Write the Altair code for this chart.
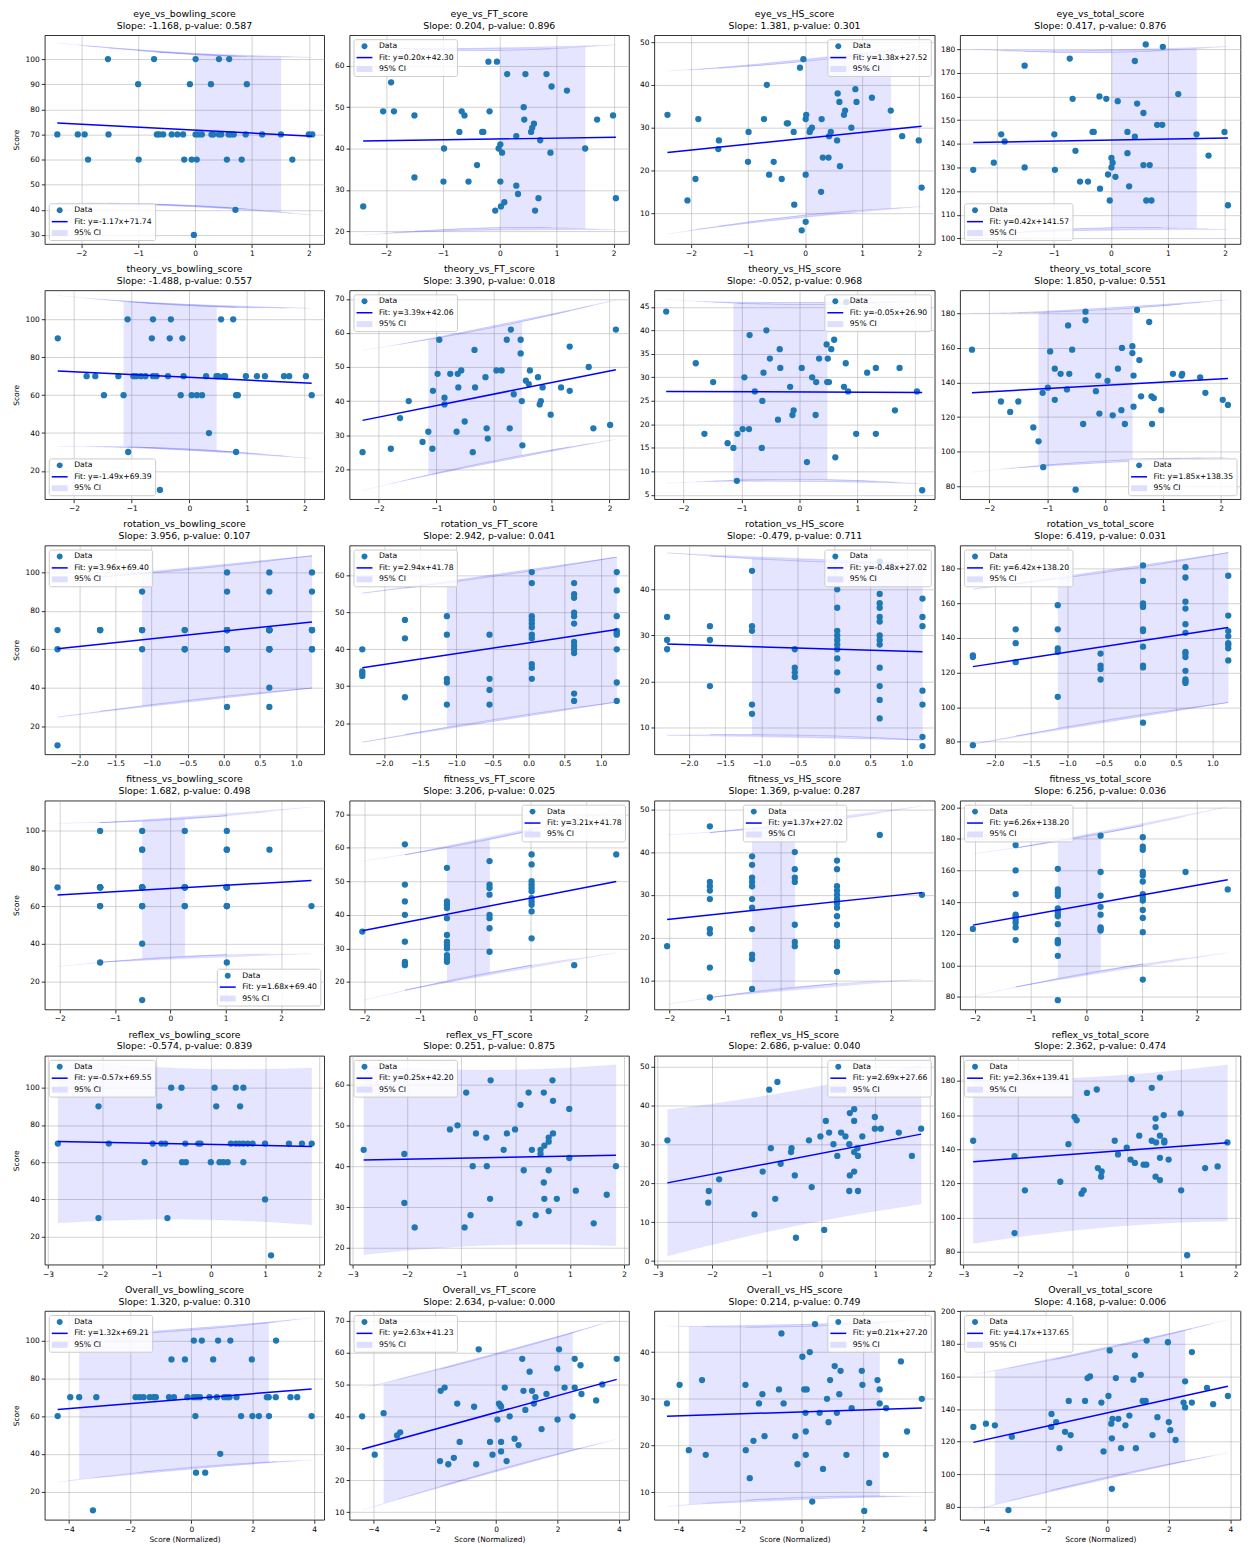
import math
import altair as alt
import numpy as np
import pandas as pd

FONT = "DejaVu Sans"
PT = "#1f77b4"

# ---------------- eye row (x = normalized eye score, y = outcome) ----------------
eye_bowling = [(-2.42,70),(-2.06,70),(-1.94,70),(-1.88,60),(-1.53,100),(-1.52,70),(-1.00,90),(-0.99,60),
               (-0.72,100),(-0.67,70),(-0.63,70),(-0.56,70),(-0.41,70),(-0.31,70),(-0.21,70),(-0.19,60),
               (-0.09,90),(-0.06,60),(-0.02,30),(0.01,100),(0.03,60),(0.01,70),(0.06,70),(0.12,70),
               (0.28,90),(0.29,70),(0.32,70),(0.42,100),(0.42,70),(0.46,70),(0.56,60),(0.60,100),
               (0.59,70),(0.63,70),(0.68,70),(0.71,40),(0.82,60),(0.89,70),(0.91,90),(1.18,70),
               (1.51,70),(1.71,60),(2.00,70),(2.06,70)]
eye_FT = [(-2.40,26),(-2.05,49),(-1.91,56),(-1.86,49),(-1.50,48),(-1.50,33),(-0.98,40),(-0.99,32),
          (-0.71,44),(-0.67,49),(-0.62,48),(-0.55,32),(-0.40,36),(-0.31,44),(-0.29,44),(-0.20,61),
          (-0.18,49),(-0.05,61),(-0.08,25),(-0.02,40),(0.01,41),(0.04,39),(0.01,32),(0.02,26),
          (0.08,27),(0.13,58),(0.29,43),(0.29,31),(0.32,29),(0.42,50),(0.43,47),(0.45,58),
          (0.55,44),(0.57,45),(0.60,46),(0.62,25),(0.68,28),(0.71,42),(0.82,58),(0.89,39),
          (0.91,55),(1.18,54),(1.50,40),(1.71,47),(1.99,48),(2.04,28)]
eye_HS = [(-2.41,33),(-2.06,13),(-1.92,18),(-1.87,32),(-1.51,27),(-1.52,25),(-0.99,29),(-1.00,22),
          (-0.72,32),(-0.67,40),(-0.63,19),(-0.55,22),(-0.41,18),(-0.32,31),(-0.30,31),(-0.20,29),
          (-0.19,12),(-0.09,44),(-0.03,46),(-0.06,6),(0.01,32),(0.02,33),(0.01,19),(0.01,8),
          (0.08,29),(0.09,29.5),(0.12,30),(0.29,32),(0.28,15),(0.31,23),(0.41,23),(0.42,28),
          (0.45,29),(0.56,27),(0.57,38),(0.60,36),(0.61,21),(0.68,33),(0.70,34),(0.81,30),
          (0.88,39),(0.90,36),(1.17,37),(1.50,34),(1.70,28),(1.99,27),(2.04,16)]
eye_total = [(-2.41,129),(-2.05,132),(-1.92,144),(-1.86,141),(-1.51,173),(-1.51,130),(-0.99,144),
             (-0.98,129),(-0.72,176),(-0.67,159),(-0.62,137),(-0.54,124),(-0.40,124),(-0.32,145),
             (-0.30,145),(-0.20,160),(-0.19,121),(-0.08,159),(-0.05,127),(-0.02,116),(0.01,134),
             (0.03,132),(0.01,130),(0.08,126),(0.12,158),(0.29,145),(0.29,136),(0.32,122),
             (0.42,175),(0.42,143),(0.46,157),(0.57,153),(0.57,131),(0.61,182),(0.62,116),
             (0.68,131),(0.71,116),(0.81,148),(0.90,148),(0.91,181),(1.18,161),(1.50,144),
             (1.71,135),(1.99,145),(2.05,114)]

# ---------------- theory row ----------------
theory_bowling = [(-2.28,90),(-1.78,70),(-1.63,70),(-1.48,60),(-1.23,70),(-1.14,60),(-1.07,100),(-1.06,30),
                  (-0.97,70),(-0.92,70),(-0.84,70),(-0.76,70),(-0.65,90),(-0.63,100),(-0.63,70),(-0.57,70),
                  (-0.51,10),(-0.37,70),(-0.34,90),(-0.32,100),(-0.15,60),(-0.12,90),(-0.10,70),(0.04,60),
                  (0.13,60),(0.22,60),(0.29,70),(0.34,40),(0.47,70),(0.50,70),(0.55,100),(0.60,70),
                  (0.62,70),(0.76,100),(0.81,60),(0.84,60),(0.81,30),(0.98,70),(1.17,70),(1.31,70),
                  (1.64,70),(1.73,70),(2.02,70),(2.12,60)]
theory_FT = [(-2.28,25),(-1.79,26),(-1.63,35),(-1.48,40),(-1.24,28),(-1.14,31),(-1.07,26),(-1.06,43),
             (-0.98,48),(-0.95,58),(-0.86,39),(-0.86,41),(-0.76,48),(-0.65,31),(-0.63,48),(-0.62,44),
             (-0.57,49),(-0.51,34),(-0.37,25),(-0.34,55),(-0.33,44),(-0.15,47),(-0.13,32),(-0.11,29),
             (0.04,49),(0.13,49),(0.22,58),(0.27,32),(0.29,61),(0.34,42),(0.46,58),(0.46,54),
             (0.48,40),(0.49,27),(0.55,46),(0.60,45),(0.62,49),(0.76,47),(0.79,39),(0.81,40),
             (0.84,44),(0.98,36),(1.16,44),(1.31,43),(1.31,56),(1.64,50),(1.72,32),(2.01,33),(2.11,61)]
theory_HS = [(-2.30,44),(-1.79,33),(-1.64,18),(-1.49,29),(-1.24,16),(-1.14,15),(-1.08,8),(-1.07,18),
             (-0.98,19),(-0.87,19),(-0.95,30),(-0.86,39),(-0.77,27),(-0.65,15),(-0.64,25),(-0.62,31),
             (-0.57,40),(-0.51,34),(-0.37,21),(-0.34,36),(-0.33,32),(-0.16,28),(-0.12,22),(-0.10,23),
             (0.04,32),(0.13,12),(0.22,30),(0.28,22),(0.29,29),(0.34,34),(0.47,37),(0.48,29),
             (0.51,29),(0.49,34),(0.55,36),(0.60,38),(0.62,13),(0.81,46),(0.77,28),(0.80,33),
             (0.84,27),(0.98,18),(1.17,31),(1.32,32),(1.32,18),(1.65,23),(1.73,32),(2.03,27),(2.12,6)]
theory_total = [(-2.30,159),(-1.80,129),(-1.64,123),(-1.50,129),(-1.24,114),(-1.15,106),(-1.08,134),
                (-1.07,91),(-0.99,137),(-0.95,158),(-0.87,148),(-0.87,130),(-0.77,145),(-0.66,136),
                (-0.64,173),(-0.62,145),(-0.57,159),(-0.51,78),(-0.38,116),(-0.34,181),(-0.34,176),
                (-0.16,135),(-0.12,144),(-0.10,122),(0.04,141),(0.13,121),(0.22,148),(0.28,124),
                (0.29,160),(0.34,116),(0.47,161),(0.47,157),(0.49,144),(0.49,126),(0.55,182),
                (0.59,153),(0.62,132),(0.76,175),(0.80,132),(0.84,131),(0.81,116),(0.97,124),
                (1.17,145),(1.32,144),(1.33,145),(1.64,143),(1.73,134),(2.03,130),(2.12,127)]

# ---------------- rotation row (discrete x levels) ----------------
rotation_levels = [-2.30, -1.71, -1.13, -0.54, 0.045, 0.63, 1.22]
rotation_bowling = [[70,60,10],[70,70,70],[90,70,70,60,70],[70,60,70,60],
                    [100,90,70,60,30,70,70,60,70,70,60],
                    [100,90,70,60,40,30,70,70,60,70,60,70,70],
                    [100,90,70,60,70,70,60,70]]
rotation_FT = [[40,34,33.4,32.8],[48,43,27],[49,44,32,31,25],[44,32,29,25],
               [61,58,49,48,47,46,44,43,36,35,32],
               [58,55,54,50,49,47,42,41,40,39,28,26],
               [61,56,49,45,44.5,44,40,31,26]]
rotation_HS = [[34,29,27],[32,29,19],[44,32,31,15,13],[27,23,22,21],
               [40,36,31,30,29,28,27,25,22,18],
               [46,39,37,36,34,33,30,29,28,23,19,16,12],
               [38,34,32,18,15,8,6]]
rotation_total = [[130,129,78],[145,137,126],[159,145,134,132,106],[131,124,122,116],
                  [182,173,160,159,158,145,144,135,124,123,91],
                  [181,175,161,157,148,143,132,131,129,121,116,115,114],
                  [176,153,144,141,137,136,134,127]]

# ---------------- fitness row (discrete x levels) ----------------
fitness_levels = [-2.04, -1.27, -0.51, 0.26, 1.02, 1.79, 2.55]
fitness_bowling = [[70],[100,70,70,70,60,60,30,70,70],[100,90,90,70,70,70,60,60,40,10,70,70,60],
                   [100,70,70,60,70,60,70,70],[100,90,70,70,60,30,70,60,70,70,60,70,90],[90],[60]]
fitness_FT = [[35],[61,49,44,40,32,26,25.5,25],[54,44,43,42,39,34,32,31,30,28,27,26],
              [56,49,48,46,40,39,36,29],[58,55,50,49,48,47,45,44,43,41,33],[25],[58]]
fitness_HS = [[18],[46,33,32,31,29,22,21,13,6],[39,37,34,33,32,29,27,22,16,15,8],
              [40,36,34,33,23,19,18],[38,36,32,31,30,29,28,27,25,23,19,18,12],[44],[30]]
fitness_total = [[123],[176,160,145,132,131,129,127,124,116],
                 [161,148,146,144,136,134,132,131,126,116,115,114,106,78],
                 [182,159,144,137,132,124,123,122],
                 [181,175,173,159,157,153,145,143,141,135,130,121,91],[159],[148]]

# ---------------- reflex row ----------------
reflex_bowling = [(-2.82,70),(-2.07,90),(-2.07,30),(-1.88,70),(-1.22,60),(-1.07,70),(-0.95,90),(-0.91,70),
                  (-0.84,70),(-0.80,30),(-0.73,100),(-0.54,100),(-0.53,60),(-0.46,60),(-0.47,70),(-0.23,70),
                  (-0.19,70),(0.00,60),(0.07,100),(0.10,90),(0.16,60),(0.23,60),(0.31,60),(0.37,70),
                  (0.46,70),(0.53,70),(0.60,70),(0.68,70),(0.77,70),(0.46,100),(0.54,90),(0.60,100),
                  (0.60,60),(1.00,70),(1.00,40),(1.11,10),(1.44,70),(1.68,70),(1.86,70)]
reflex_FT = [(-2.80,44),(-2.05,43),(-2.05,31),(-1.86,25),(-1.21,49),(-1.07,50),(-0.94,25),(-0.91,58),
             (-0.83,28),(-0.79,40),(-0.73,48),(-0.54,47),(-0.53,40),(-0.46,61),(-0.47,32),(-0.22,44),
             (-0.16,48),(-0.01,49),(0.07,26),(0.09,55),(0.15,39),(0.24,58),(0.30,44),(0.37,28),
             (0.46,44),(0.46,43),(0.52,58),(0.53,45),(0.52,36),(0.53,32),(0.61,47),(0.61,46),
             (0.61,39),(0.61,29),(0.68,61),(0.69,56),(0.69,48),(0.76,32),(0.99,54),(0.99,42),
             (1.11,34),(1.44,26),(1.68,33),(1.85,40)]
reflex_HS = [(-2.82,31),(-2.06,18),(-2.07,15),(-1.87,21),(-1.22,12),(-1.07,23),(-0.95,44),(-0.92,29),
             (-0.84,16),(-0.80,46),(-0.74,25),(-0.54,29),(-0.55,28),(-0.48,22),(-0.46,6),(-0.22,31),
             (-0.17,19),(-0.01,32),(0.06,8),(0.09,36),(0.15,33),(0.23,30),(0.30,27),(0.37,33),
             (0.45,32),(0.52,30),(0.52,18),(0.53,38),(0.53,22),(0.61,39),(0.61,36),(0.61,28),
             (0.61,23),(0.67,29),(0.68,27),(0.68,18),(0.76,32),(0.99,37),(0.99,34),(1.10,34),
             (1.43,33),(1.67,27),(1.84,34)]
reflex_total = [(-2.82,145),(-2.06,136),(-2.06,91),(-1.87,116),(-1.22,121),(-1.07,143),(-0.96,159),
                (-0.92,157),(-0.83,114),(-0.79,116),(-0.73,173),(-0.55,175),(-0.53,129),(-0.46,127),
                (-0.47,124),(-0.22,145),(-0.16,137),(0.00,141),(0.07,134),(0.09,181),(0.15,132),
                (0.23,148),(0.31,131),(0.36,131),(0.46,176),(0.46,145),(0.53,158),(0.53,153),
                (0.54,144),(0.53,124),(0.61,182),(0.61,148),(0.61,135),(0.61,122),(0.68,160),
                (0.69,145),(0.69,144),(0.77,134),(0.99,161),(1.00,116),(1.11,78),(1.44,129),
                (1.67,130),(1.85,144)]

# ---------------- Overall row ----------------
Overall_bowling = [(-4.36,60),(-3.95,70),(-3.66,70),(-3.21,10),(-3.10,70),(-1.82,70),(-1.69,70),(-1.56,70),
                   (-1.36,70),(-1.23,70),(-1.16,70),(-0.73,70),(-0.57,70),(-0.65,90),(-0.21,90),(-0.13,70),
                   (0.07,70),(0.17,70),(0.28,70),(0.08,100),(0.13,60),(0.15,30),(0.34,100),(0.45,30),
                   (0.59,70),(0.71,90),(0.83,70),(0.87,100),(0.94,40),(1.07,70),(1.16,70),(1.24,70),
                   (1.27,100),(1.47,70),(1.62,60),(1.97,90),(1.99,60),(2.20,60),(2.46,70),(2.52,70),
                   (2.53,60),(2.75,70),(2.76,100),(3.23,70),(3.45,70),(3.92,60)]
Overall_FT = [(-4.37,40),(-3.96,28),(-3.67,41),(-3.23,34),(-3.13,35),(-1.81,48),(-1.83,26),(-1.68,49),
              (-1.56,25),(-1.38,27),(-1.27,44),(-1.19,32),(-0.72,43),(-0.65,25),(-0.57,61),(-0.20,32),
              (-0.12,28),(0.04,39),(0.09,44),(0.13,43.5),(0.16,43),(0.16,32),(0.16,29),(0.28,49),
              (0.34,26),(0.44,40),(0.60,33),(0.73,31),(0.85,58),(0.89,48),(0.95,42),(1.09,54),
              (1.17,48),(1.23,44),(1.28,46),(1.48,36),(1.64,47),(1.99,55),(2.00,39),(2.05,61),
              (2.23,49),(2.49,40),(2.56,58),(2.56,49),(2.75,56),(2.78,47),(3.26,45),(3.46,50),(3.93,58)]
Overall_HS = [(-4.37,29),(-3.96,33),(-3.66,19),(-3.23,34),(-3.11,18),(-1.82,33),(-1.81,19),(-1.68,13),
              (-1.56,21),(-1.38,29),(-1.27,31),(-1.20,22),(-0.73,32),(-0.65,44),(-0.58,29),(-0.20,22),
              (-0.13,16),(0.03,39),(0.09,32),(0.17,32),(0.13,27),(0.14,23),(0.14,18),(0.27,40),
              (0.35,8),(0.44,46),(0.59,27),(0.70,15),(0.83,30),(0.88,25),(0.93,34),(1.08,37),
              (1.15,27),(1.23,31),(1.27,36),(1.46,18),(1.63,28),(1.96,36),(1.98,33),(2.04,6),
              (2.20,12),(2.47,34),(2.54,32),(2.54,29),(2.75,28),(2.74,18),(3.23,38),(3.43,23),(3.91,30)]
Overall_total = [(-4.35,129),(-3.94,131),(-3.65,130),(-3.10,123),(-3.21,78),(-1.82,129),(-1.81,137),
                 (-1.66,132),(-1.55,116),(-1.37,126),(-1.25,145),(-1.19,124),(-0.72,145),(-0.64,159),
                 (-0.56,160),(-0.19,144),(-0.12,114),(0.04,148),(0.08,176),(0.13,131),(0.17,134),
                 (0.15,122),(0.15,91),(0.28,159),(0.36,134),(0.45,116),(0.59,130),(0.72,136),
                 (0.85,158),(0.90,173),(0.93,116),(1.09,161),(1.15,145),(1.25,145),(1.28,182),
                 (1.47,124),(1.63,135),(1.97,181),(2.00,132),(2.05,127),(2.22,121),(2.48,144),
                 (2.53,157),(2.53,141),(2.75,175),(2.75,144),(3.24,153),(3.44,143),(3.92,148)]

# ---------------- fit statistics: (slope, p-value, intercept) ----------------
eye_stats = [(-1.168,0.587,71.74),(0.204,0.896,42.30),(1.381,0.301,27.52),(0.417,0.876,141.57)]
theory_stats = [(-1.488,0.557,69.39),(3.390,0.018,42.06),(-0.052,0.968,26.90),(1.850,0.551,138.35)]
rotation_stats = [(3.956,0.107,69.40),(2.942,0.041,41.78),(-0.479,0.711,27.02),(6.419,0.031,138.20)]
fitness_stats = [(1.682,0.498,69.40),(3.206,0.025,41.78),(1.369,0.287,27.02),(6.256,0.036,138.20)]
reflex_stats = [(-0.574,0.839,69.55),(0.251,0.875,42.20),(2.686,0.040,27.66),(2.362,0.474,139.41)]
Overall_stats = [(1.320,0.310,69.21),(2.634,0.000,41.23),(0.214,0.749,27.20),(4.168,0.006,137.65)]

ROWS = ["eye", "theory", "rotation", "fitness", "reflex", "Overall"]
COLS = ["bowling", "FT", "HS", "total"]


def expand(levels, groups):
    return [(lv, v) for lv, g in zip(levels, groups) for v in g]


POINTS = {
    "eye": [eye_bowling, eye_FT, eye_HS, eye_total],
    "theory": [theory_bowling, theory_FT, theory_HS, theory_total],
    "rotation": [expand(rotation_levels, g) for g in (rotation_bowling, rotation_FT, rotation_HS, rotation_total)],
    "fitness": [expand(fitness_levels, g) for g in (fitness_bowling, fitness_FT, fitness_HS, fitness_total)],
    "reflex": [reflex_bowling, reflex_FT, reflex_HS, reflex_total],
    "Overall": [Overall_bowling, Overall_FT, Overall_HS, Overall_total],
}
STATS = {"eye": eye_stats, "theory": theory_stats, "rotation": rotation_stats,
         "fitness": fitness_stats, "reflex": reflex_stats, "Overall": Overall_stats}

# first / last subject of the data order (the band was drawn in data order)
BAND_ENDS = {"eye": (0.0, 1.51), "theory": (-1.14, 0.48), "rotation": (-1.13, 1.22),
             "fitness": (-0.51, 0.26), "reflex": None, "Overall": (-3.66, 2.52)}

XDOM = {"eye": (-2.64, 2.27), "theory": (-2.505, 2.337), "rotation": (-2.476, 1.389),
        "fitness": (-2.27, 2.78), "reflex": (-3.06, 2.09), "Overall": (-4.78, 4.33)}
XTICKS = {"eye": [-2, -1, 0, 1, 2], "theory": [-2, -1, 0, 1, 2],
          "rotation": [-2.0, -1.5, -1.0, -0.5, 0.0, 0.5, 1.0], "fitness": [-2, -1, 0, 1, 2],
          "reflex": [-3, -2, -1, 0, 1, 2], "Overall": [-4, -2, 0, 2, 4]}
YDOM = {
    ("eye", "bowling"): (26.4, 109.5, 30, 100, 10), ("eye", "FT"): (16.9, 67.4, 20, 60, 10),
    ("eye", "HS"): (2.8, 51.6, 10, 50, 10), ("eye", "total"): (97.6, 185.9, 100, 180, 10),
    ("theory", "bowling"): (5.1, 115.3, 20, 100, 20), ("theory", "FT"): (11.2, 72.5, 20, 70, 10),
    ("theory", "HS"): (4.1, 48.5, 5, 45, 5), ("theory", "total"): (72.5, 193.3, 80, 180, 20),
    ("rotation", "bowling"): (5.3, 114.0, 20, 100, 20), ("rotation", "FT"): (11.5, 68.2, 20, 60, 10),
    ("rotation", "HS"): (4.2, 49.5, 10, 40, 10), ("rotation", "total"): (72.7, 193.5, 80, 180, 20),
    ("fitness", "bowling"): (5.0, 116.1, 20, 100, 20), ("fitness", "FT"): (11.8, 74.0, 20, 70, 10),
    ("fitness", "HS"): (3.2, 52.0, 10, 50, 10), ("fitness", "total"): (72.1, 204.1, 80, 200, 20),
    ("reflex", "bowling"): (5.0, 117.1, 20, 100, 20), ("reflex", "FT"): (15.9, 67.0, 20, 60, 10),
    ("reflex", "HS"): (-0.9, 52.7, 0, 50, 10), ("reflex", "total"): (72.5, 194.7, 80, 180, 20),
    ("Overall", "bowling"): (5.0, 115.7, 20, 100, 20), ("Overall", "FT"): (7.6, 73.0, 10, 70, 10),
    ("Overall", "HS"): (4.1, 48.8, 10, 40, 10), ("Overall", "total"): (72.0, 200.2, 80, 200, 20),
}
LEGEND_POS = {
    "eye": ["bottom-left", "top-left", "top-right", "bottom-left"],
    "theory": ["bottom-left", "top-left", "top-right", "bottom-right"],
    "rotation": ["top-left", "top-left", "top-right", "top-left"],
    "fitness": ["bottom-right", "top-right", (89, 4), "top-left"],
    "reflex": ["top-left", "top-left", "top-right", "top-left"],
    "Overall": ["top-left", "top-left", "top-right", "top-left"],
}

CIRCLE_PATH = "M1.75,0A0.75,0.75 0 1,1 0.25,0A0.75,0.75 0 1,1 1.75,0Z"
LINE_PATH = "M-1,-0.19H3V0.19H-1Z"
RECT_PATH = "M-1,-0.75H3V0.75H-1Z"

WIDTHS = [281, 281, 282, 282]
H = 210
TITLE_GAP = 4.0
LABEL_HALF = 4.3


def band_order(xs, ends):
    n = len(xs)
    idx = sorted(range(n), key=lambda i: xs[i])
    if ends is None:
        return idx
    i0 = min(range(n), key=lambda i: abs(xs[i] - ends[0]))
    i1 = min((i for i in range(n) if i != i0), key=lambda i: abs(xs[i] - ends[1]))
    mid = [i for i in idx if i not in (i0, i1)]
    m = len(mid)
    step = next(s for s in (7, 11, 13, 5, 3) if math.gcd(s, m) == 1)
    mid = [mid[(k * step) % m] for k in range(m)]
    return [i0] + mid + [i1]


def make_panel(r, ci):
    c = COLS[ci]
    pts = POINTS[r][ci]
    slope, pval, icpt = STATS[r][ci]
    df = pd.DataFrame(pts, columns=["x", "y"])
    x = df["x"].to_numpy(float)
    y = df["y"].to_numpy(float)
    n = len(x)
    pred = slope * x + icpt
    s = np.sqrt(((y - pred) ** 2).sum() / (n - 2))
    xm = x.mean()
    sxx = ((x - xm) ** 2).sum()
    half = 2.01 * s * np.sqrt(1 + 1 / n + (x - xm) ** 2 / sxx)
    lo, hi = pred - half, pred + half
    order = band_order(list(x), BAND_ENDS[r])
    px = [x[i] for i in order] + [x[i] for i in reversed(order)]
    py = [lo[i] for i in order] + [hi[i] for i in reversed(order)]
    poly = pd.DataFrame({"x": px, "y": py, "k": range(len(px))})
    fit = pd.DataFrame({"x": [x.min(), x.max()]})
    fit["y"] = slope * fit["x"] + icpt

    ylo, yhi, t0, t1, tst = YDOM[(r, c)]
    yt = list(range(t0, t1 + 1, tst))
    # keep the title at the same distance from the frame when the top tick label overhangs
    top_gap = (yhi - t1) * H / (yhi - ylo)
    overhang = max(0.0, LABEL_HALF - top_gap)
    toff = max(0.0, TITLE_GAP - overhang)

    xsc = alt.Scale(domain=list(XDOM[r]), nice=False, zero=False)
    ysc = alt.Scale(domain=[ylo, yhi], nice=False, zero=False)
    xax = alt.Axis(values=XTICKS[r], format=".1f" if r == "rotation" else "d",
                   title="Score (Normalized)" if r == "Overall" else None)
    yax = alt.Axis(values=yt, format="d", title="Score" if c == "bowling" else None)
    X = alt.X("x:Q", scale=xsc, axis=xax)
    Y = alt.Y("y:Q", scale=ysc, axis=yax)

    fit_label = f"Fit: y={slope:.2f}x+{icpt:.2f}"
    labels = ["Data", fit_label, "95% CI"]
    pos = LEGEND_POS[r][ci]
    common = dict(title=None, offset=4, padding=3, labelFont=FONT, labelFontSize=7.7,
                  labelColor="black", symbolSize=64, symbolStrokeWidth=0, labelOffset=14.5,
                  rowPadding=3.5, fillColor="rgba(255,255,255,0.8)", strokeColor="#cccccc",
                  cornerRadius=2, labelLimit=300, symbolOpacity=1)
    if isinstance(pos, tuple):
        leg = alt.Legend(orient="none", legendX=pos[0], legendY=pos[1], **common)
    else:
        leg = alt.Legend(orient=pos, **common)

    band = alt.Chart(poly).mark_line(
        fill="blue", fillOpacity=0.1, stroke="blue", strokeOpacity=0.05,
        strokeWidth=0.6, clip=True
    ).encode(x=X, y=Y, order=alt.Order("k:Q"))
    points = alt.Chart(df).mark_circle(size=40, color=PT, opacity=1, clip=True).encode(x=X, y=Y)
    fitl = alt.Chart(fit).mark_line(color="blue", strokeWidth=1.5).encode(x=X, y=Y)
    legdf = pd.DataFrame({"s": labels})
    legl = alt.Chart(legdf).mark_point(filled=True, opacity=1, clip=True).encode(
        x=alt.value(-500), y=alt.value(-500),
        color=alt.Color("s:N", scale=alt.Scale(domain=labels, range=[PT, "blue", "#dedeff"]), legend=leg),
        shape=alt.Shape("s:N", scale=alt.Scale(domain=labels, range=[CIRCLE_PATH, LINE_PATH, RECT_PATH]), legend=leg),
    )
    title = alt.TitleParams(text=[f"{r}_vs_{c}_score", f"Slope: {slope:.3f}, p-value: {pval:.3f}"],
                            font=FONT, fontSize=9.4, fontWeight="normal", lineHeight=12,
                            offset=toff, color="black", anchor="middle", frame="group")
    return alt.layer(band, legl, points, fitl).properties(width=WIDTHS[ci], height=H, title=title)


panels = [make_panel(r, ci) for r in ROWS for ci in range(4)]
chart = alt.concat(*panels, columns=4, spacing={"row": 46.6, "column": 25.5}, bounds="flush")
chart = chart.resolve_scale(x="independent", y="independent", color="independent", shape="independent")
chart = chart.resolve_legend(color="independent", shape="independent")
chart = chart.properties(padding={"left": 3, "top": -4, "right": 2, "bottom": 0})
chart = chart.configure_view(stroke="black", strokeWidth=0.8).configure_axis(
    labelFont=FONT, labelFontSize=7.5, labelColor="black", titleFont=FONT, titleFontSize=7.5,
    titleColor="black", titleFontWeight="normal", tickColor="black", tickSize=3.5, tickWidth=0.8,
    domain=False, grid=True, gridColor="#b0b0b0", gridWidth=0.8, gridOpacity=0.7,
    labelPadding=2, labelOverlap=False, labelFlush=False
).configure_axisY(titlePadding=5).configure_axisX(titlePadding=2.5)

chart.save("out.html", embed_options={"renderer": "svg", "actions": False})
